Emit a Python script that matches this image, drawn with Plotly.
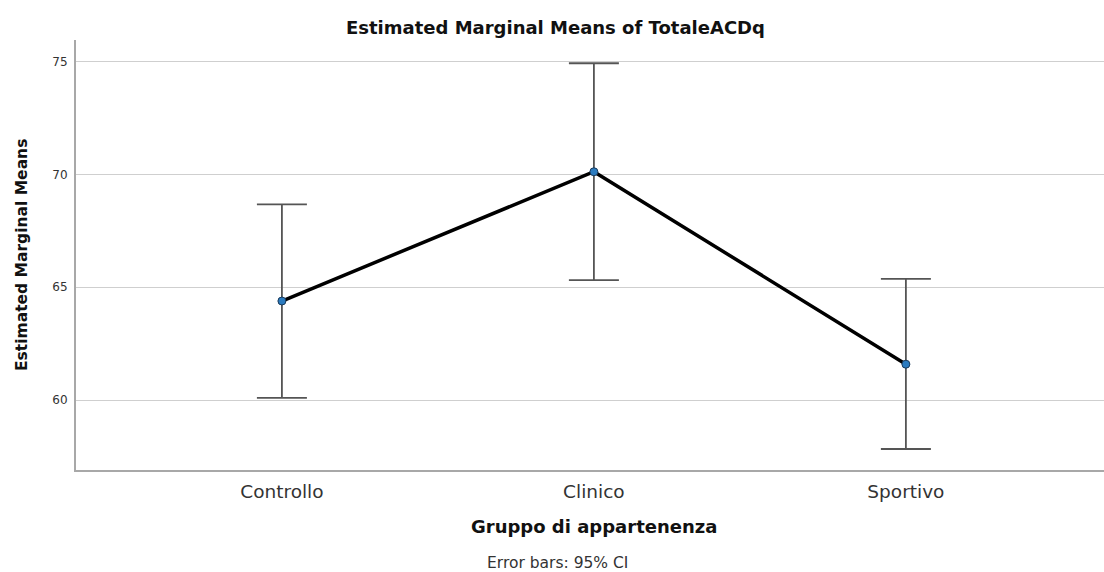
import plotly.graph_objects as go

# Group means of TotaleACDq with 95% confidence limits
groups = ["Controllo", "Clinico", "Sportivo"]
means = [64.39, 70.12, 61.59]
ci_upper = [68.67, 74.93, 65.37]
ci_lower = [60.10, 65.32, 57.83]
y_ticks = [60, 65, 70, 75]

err_plus = [u - m for u, m in zip(ci_upper, means)]
err_minus = [m - l for m, l in zip(means, ci_lower)]

L, R, T, B = 76, 0, 40, 102
W, H = 1104, 572
plot_w = W - L - R
plot_h = H - T - B
FONT = "DejaVu Sans, Verdana, sans-serif"


def px_x(px):
    return (px - L) / plot_w


def px_y(py):
    return (H - B - py) / plot_h


fig = go.Figure()
fig.add_trace(go.Scatter(
    x=groups, y=means, mode="lines+markers",
    line=dict(color="black", width=3.5),
    marker=dict(size=8, color="#2b7bbf", line=dict(color="#1a3a5a", width=1)),
    error_y=dict(type="data", symmetric=False, array=err_plus, arrayminus=err_minus,
                 color="#555555", thickness=1.8, width=25),
    showlegend=False, hoverinfo="skip",
))

fig.update_layout(
    width=W, height=H,
    margin=dict(l=L, r=R, t=T, b=B),
    paper_bgcolor="white", plot_bgcolor="white",
    font=dict(family=FONT, color="#222"),
    xaxis=dict(
        range=[-0.66, 2.635], showgrid=False, zeroline=False,
        showline=True, linecolor="#a8a8a8", linewidth=2,
        ticks="outside", ticklen=4, tickcolor="rgba(0,0,0,0)",
        tickfont=dict(family=FONT, size=18.5, color="#333"),
    ),
    yaxis=dict(
        range=[56.9, 75.96], tickvals=y_ticks, showgrid=True,
        gridcolor="#cfcfcf", gridwidth=1, zeroline=False,
        showline=True, linecolor="#a8a8a8", linewidth=2,
        ticks="outside", ticklen=4, tickcolor="rgba(0,0,0,0)",
        tickfont=dict(family=FONT, size=12, color="#333"),
    ),
    annotations=[
        dict(text="<b>Estimated Marginal Means of TotaleACDq</b>", xref="paper", yref="paper",
             x=px_x(555), y=px_y(27), xanchor="center", yanchor="middle",
             showarrow=False, font=dict(family=FONT, size=18, color="#111")),
        dict(text="<b>Gruppo di appartenenza</b>", xref="paper", yref="paper",
             x=px_x(594), y=px_y(526), xanchor="center", yanchor="middle",
             showarrow=False, font=dict(family=FONT, size=18, color="#111")),
        dict(text="Error bars: 95% CI", xref="paper", yref="paper",
             x=px_x(557), y=px_y(563), xanchor="center", yanchor="middle",
             showarrow=False, font=dict(family=FONT, size=15.5, color="#333")),
        dict(text="<b>Estimated Marginal Means</b>", xref="paper", yref="paper",
             x=px_x(22), y=px_y(255), xanchor="center", yanchor="middle",
             textangle=-90, showarrow=False,
             font=dict(family=FONT, size=15.5, color="#111")),
    ],
)

fig.write_html("out.html")
